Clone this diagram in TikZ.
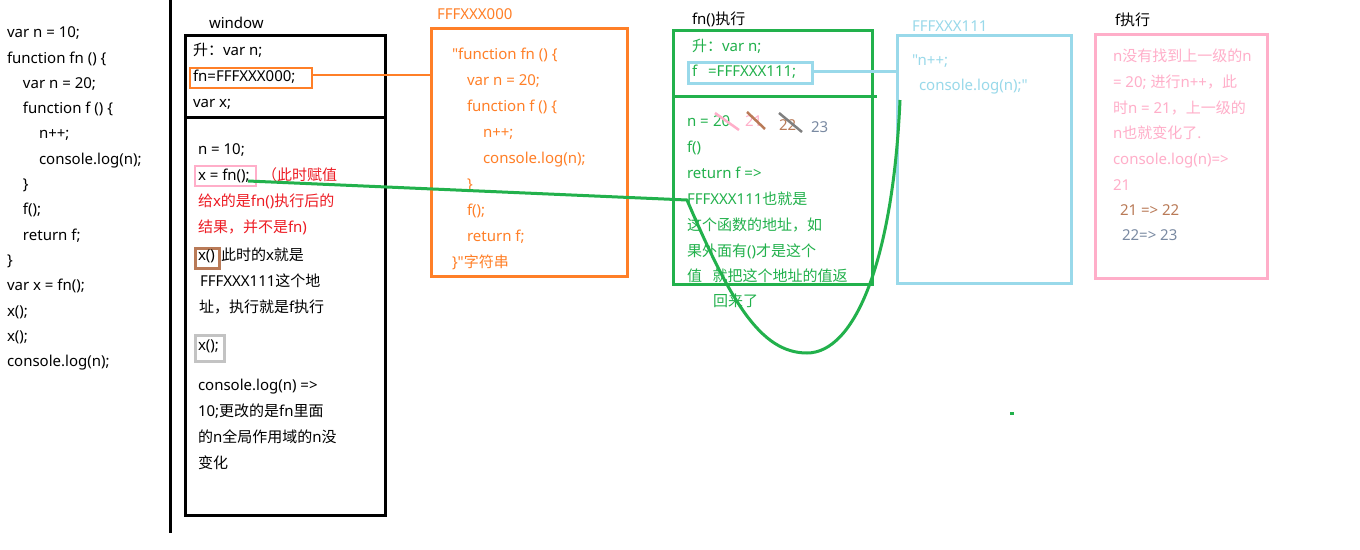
\documentclass[tikz,border=0pt]{standalone}
\usepackage{fontspec}
\setmainfont{Noto Sans}[Ligatures=TeXOff]
\newfontfamily\cjkfont{Noto Sans CJK SC}[Ligatures=TeXOff]
\newfontfamily\latfont{Noto Sans}[Ligatures=TeXOff]
\XeTeXinterchartokenstate=1
\newXeTeXintercharclass\cjkcls
\count255="3000
\loop\XeTeXcharclass\count255=\cjkcls\ifnum\count255<"303F\advance\count255 by 1\repeat
\count255="4E00
\loop\XeTeXcharclass\count255=\cjkcls\ifnum\count255<"9FFF\advance\count255 by 1\repeat
\count255="FF00
\loop\XeTeXcharclass\count255=\cjkcls\ifnum\count255<"FFEF\advance\count255 by 1\repeat
\XeTeXinterchartoks 0 \cjkcls = {\cjkfont}
\XeTeXinterchartoks 4095 \cjkcls = {\cjkfont}
\XeTeXinterchartoks \cjkcls 0 = {\latfont}
\definecolor{orng}{HTML}{FF7F27}
\definecolor{grn}{HTML}{22B14C}
\definecolor{lblue}{HTML}{99D9EA}
\definecolor{pnk}{HTML}{FFAEC9}
\definecolor{brwn}{HTML}{B97A57}
\definecolor{lgray}{HTML}{C3C3C3}
\definecolor{dgray}{HTML}{7F7F7F}
\definecolor{bgray}{HTML}{7A8AA2}
\definecolor{rd}{HTML}{ED1C24}
\begin{document}
\begin{tikzpicture}[x=1pt,y=-1pt,
  t/.style={anchor=base west, inner sep=0pt, outer sep=0pt, font=\fontsize{15}{18}\selectfont},
  frame/.style={draw, line width=3pt, inner sep=0pt, outer sep=0pt, anchor=north west},
  conn/.style={line width=3pt}]
\useasboundingbox[fill=white] (0,0) rectangle (1360,549);

% left divider
\draw[line width=3pt] (170.5,0) -- (170.5,533);

% left code
\node[t] (c1) at (7,37.7) {var n = 10;};
\node[t] (c2) at (7,63.0) {function fn () \{};
\node[t] (c3) at (23,88.3) {var n = 20;};
\node[t] (c4) at (23,113.6) {function f () \{};
\node[t] (c5) at (39,138.9) {n++;};
\node[t] (c6) at (39,164.2) {console.log(n);};
\node[t] (c7) at (23,189.5) {\}};
\node[t] (c8) at (23,214.8) {f();};
\node[t] (c9) at (23,240.1) {return f;};
\node[t] (c10) at (7,265.4) {\}};
\node[t] (c11) at (7,290.7) {var x = fn();};
\node[t] (c12) at (7,316.0) {x();};
\node[t] (c13) at (7,341.3) {x();};
\node[t] (c14) at (7,366.6) {console.log(n);};

% window
\node[t] (wlabel) at (209,28) {window};
\node[frame, minimum width=200pt, minimum height=82pt] (wtop) at (185.5,35.5) {};
\node[frame, minimum width=200pt, minimum height=398pt] (wbot) at (185.5,117.5) {};
\node[frame, draw=orng, line width=2.5pt, minimum width=122pt, minimum height=20pt] (fnbox) at (190,68) {};
\node[frame, draw=pnk, line width=2.5pt, minimum width=61pt, minimum height=20pt] (xbox) at (195,166) {};
\node[frame, draw=brwn, line width=3pt, minimum width=24pt, minimum height=20.5pt] (xcall) at (195.5,248) {};
\node[frame, draw=lgray, line width=3pt, minimum width=29pt, minimum height=26pt] (xcall2) at (195.5,335.5) {};

\node[t] (w1) at (193,55) {升：var n;};
\node[t] (w2) at (193,81) {fn=FFFXXX000;};
\node[t] (w3) at (193,107) {var x;};
\node[t] (w4) at (198,154) {n = 10;};
\node[t] (w5) at (198,180) {x = fn();};
\node[t, text=rd] (w6) at (262,180) {（此时赋值};
\node[t, text=rd] (w7) at (198,206) {给x的是fn()执行后的};
\node[t, text=rd] (w8) at (198,232) {结果，并不是fn)};
\node[t] (w9) at (198,260) {x()};
\node[t] (w10) at (221,260) {此时的x就是};
\node[t] (w11) at (200,286) {FFFXXX111这个地};
\node[t] (w12) at (199,312) {址，执行就是f执行};
\node[t] (w13) at (198,350) {x();};
\node[t] (w14) at (198,390) {console.log(n) =>};
\node[t] (w15) at (198,416) {10;更改的是fn里面};
\node[t] (w16) at (198,442) {的n全局作用域的n没};
\node[t] (w17) at (198,468) {变化};

% FFFXXX000 box
\node[t, text=orng] (olabel) at (437,19) {FFFXXX000};
\node[frame, draw=orng, minimum width=196pt, minimum height=248pt] (obox) at (431.5,28.5) {};
\begin{scope}[every node/.append style={text=orng}]
\node[t] (o1) at (452,59) {"function fn () \{};
\node[t] (o2) at (467,85) {var n = 20;};
\node[t] (o3) at (467,111) {function f () \{};
\node[t] (o4) at (483,137) {n++;};
\node[t] (o5) at (483,163) {console.log(n);};
\node[t] (o6) at (467,189) {\}};
\node[t] (o7) at (467,215) {f();};
\node[t] (o8) at (467,241) {return f;};
\node[t] (o9) at (452,267) {\}"字符串};
\end{scope}
\draw[conn, orng, line width=2.5pt] ([yshift=3pt]fnbox.east) -- ([yshift=3pt]fnbox.east -| obox.west);

% fn() execution box
\node[t] (glabel) at (692,24) {fn()执行};
\node[frame, draw=grn, minimum width=198.5pt, minimum height=253.5pt] (gbox) at (673.5,30.5) {};
\draw[grn, line width=3pt] (673.5,96) -- (877,96);
\node[frame, draw=lblue, minimum width=124pt, minimum height=20.5pt] (fbox) at (688,62.5) {};
\begin{scope}[every node/.append style={text=grn}]
\node[t] (g1) at (692,51) {升：var n;};
\node[t] (g2) at (692,76) {f\hspace{11pt}=FFFXXX111;};
\node[t] (g3) at (687,126) {n = };
\node[t] (g4) at (713,126) {20};
\node[t] (g5) at (687,152) {f()};
\node[t] (g6) at (687,178) {return f =>};
\node[t] (g7) at (687,204) {FFFXXX111也就是};
\node[t] (g8) at (687,230) {这个函数的地址，如};
\node[t] (g9) at (687,256) {果外面有()才是这个};
\node[t] (g10) at (687,281) {值\hspace{10.5pt}就把这个地址的值返};
\node[t] (g11) at (713,306) {回来了};
\end{scope}
\node[t, text=pnk] (g21) at (745,126) {21};
\node[t, text=brwn] (g22) at (779,130) {22};
\node[t, text=bgray] (g23) at (811,132) {23};
\draw[pnk, line width=2.5pt] (715,113) -- (739,130);
\draw[brwn, line width=2.5pt] (747,112) -- (765,129);
\draw[dgray, line width=2.5pt] (779,113) -- (802,132);

% FFFXXX111 box
\node[t, text=lblue] (llabel) at (912,31) {FFFXXX111};
\node[frame, draw=lblue, minimum width=174pt, minimum height=248pt] (lbox) at (897.5,35.5) {};
\node[t, text=lblue] (l1) at (912,65) {"n++;};
\node[t, text=lblue] (l2) at (919,90) {console.log(n);"};
\draw[conn, lblue] ([yshift=1.5pt]fbox.east) -- ([yshift=1.5pt]fbox.east -| lbox.west);

% f execution box
\node[t] (plabel) at (1115,25) {f执行};
\node[frame, draw=pnk, minimum width=172pt, minimum height=244pt] (pbox) at (1095.5,34.5) {};
\begin{scope}[every node/.append style={text=pnk}]
\node[t] (p1) at (1113,61) {n没有找到上一级的n};
\node[t] (p2) at (1113,87) {= 20; 进行n++，此};
\node[t] (p3) at (1113,113) {时n = 21，上一级的};
\node[t] (p4) at (1113,138) {n也就变化了.};
\node[t] (p5) at (1113,164) {console.log(n)=>};
\node[t] (p6) at (1113,190) {21};
\end{scope}
\node[t, text=brwn] (p7) at (1120,215) {21 => 22};
\node[t, text=bgray] (p8) at (1122,240) {22=> 23};

% green connector
\coordinate (gs) at (248,181);
\coordinate (gm) at (687,200);
\coordinate (gb) at (807,353);
\coordinate (ge) at (900,100);
\draw[conn, grn] (gs) -- (gm) .. controls (730,300) and (760,353) .. (gb) .. controls (855,353) and (893,260) .. (ge);

% stray dot
\fill[grn] (1010,412) rectangle (1014,415);
\end{tikzpicture}
\end{document}
